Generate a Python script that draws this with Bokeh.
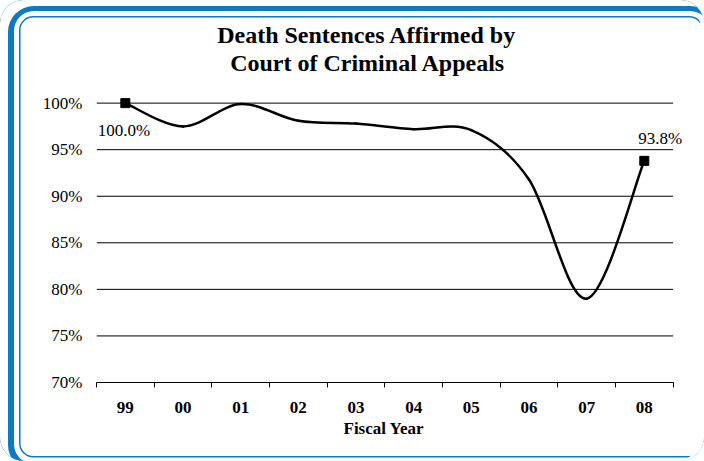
from bokeh.plotting import figure
from bokeh.models import FixedTicker, Title, Range1d, ColumnDataSource, LabelSet, Label
from bokeh.embed import file_html
from bokeh.resources import INLINE

# ---- data ----
years = ["99", "00", "01", "02", "03", "04", "05", "06", "07", "08"]
affirmed = [100.0, 97.5, 99.9, 98.1, 97.8, 97.2, 97.1, 91.8, 79.0, 93.8]
y_ticks = [70, 75, 80, 85, 90, 95, 100]
y_tick_labels = ["70%", "75%", "80%", "85%", "90%", "95%", "100%"]
end_labels = ["100.0%", "93.8%"]
title_lines = ["Death Sentences Affirmed by", "Court of Criminal Appeals"]
x_title = "Fiscal Year"

FONT = "Liberation Serif"
BLUE = "#0a7bc4"

ncat = len(years)
xs = [i + 0.5 for i in range(ncat)]   # category centres; boundaries carry tick marks
n = len(xs)

# ---- layout geometry (pixels) ----
W, H = 704, 461
FL, FT, FB = 96, 20, 382              # frame left / top / bottom
PX_CAT = 57.7                         # pixels per category
PX_PCT = 9.313                        # pixels per percentage point
X_END = ncat + 0.18                   # a bit of room right of the last category
Y_END = 70 + (FB - FT) / PX_PCT
FR = FL + X_END * PX_CAT


def dx(px):
    return (px - FL) / PX_CAT


def dy(py):
    return 70 + (FB - py) / PX_PCT


# smoothed line: cubic Bezier segments with Catmull-Rom control points
seg = dict(x0=[], y0=[], x1=[], y1=[], cx0=[], cy0=[], cx1=[], cy1=[])
for i in range(n - 1):
    xp, yp = (xs[i - 1], affirmed[i - 1]) if i > 0 else (xs[i], affirmed[i])
    xn, yn = (xs[i + 2], affirmed[i + 2]) if i + 2 < n else (xs[i + 1], affirmed[i + 1])
    seg["x0"].append(xs[i]); seg["y0"].append(affirmed[i])
    seg["x1"].append(xs[i + 1]); seg["y1"].append(affirmed[i + 1])
    seg["cx0"].append(xs[i] + (xs[i + 1] - xp) / 6)
    seg["cy0"].append(affirmed[i] + (affirmed[i + 1] - yp) / 6)
    seg["cx1"].append(xs[i + 1] - (xn - xs[i]) / 6)
    seg["cy1"].append(affirmed[i + 1] - (yn - affirmed[i]) / 6)

p = figure(width=W, height=H, x_range=Range1d(0, X_END), y_range=Range1d(70, Y_END),
           output_backend="svg", toolbar_location=None, title=None,
           min_border_left=FL, min_border_right=int(round(W - FR)), min_border_top=FT,
           min_border_bottom=H - FB,
           background_fill_color=None, border_fill_color=None, outline_line_color=None)

# decorative double rounded border (drawn as inset box-shadows of the figure element);
# the frame runs off the right edge of the page, so the right-hand strip is left blank
p.styles = {
    "border-radius": "24px",
    "box-shadow": ", ".join([
        "inset 10px 8px 0 -2px white",
        f"inset 10px 7px 0 4px {BLUE}",
        "inset -4px 0 0 0 white",
        "inset 9.25px 6.25px 0 9.75px white",
        f"inset 9.25px 6.25px 0 11.25px {BLUE}",
    ]),
}

# two-line title (positions calibrated so baselines land at pixel rows 42 and 70)
for txt, cx, base in zip(title_lines, [366.5, 367.5], [34, 62]):
    p.add_layout(Label(x=dx(cx), y=dy(base), text=txt, text_font=FONT, text_font_size="24px",
                       text_font_style="bold", text_color="black",
                       text_align="center", text_baseline="alphabetic"))

# axes
xa = p.xaxis[0]
xa.bounds = (0, ncat)
xa.ticker = FixedTicker(ticks=xs, minor_ticks=list(range(ncat + 1)))
xa.major_label_overrides = {xv: yr for xv, yr in zip(xs, years)}
xa.major_tick_in = 0
xa.major_tick_out = 0
xa.minor_tick_in = 0
xa.minor_tick_out = 5
xa.minor_tick_line_color = "black"
xa.axis_line_color = "black"
xa.major_label_text_font = FONT
xa.major_label_text_font_style = "bold"
xa.major_label_text_font_size = "17px"
xa.major_label_text_color = "black"
xa.major_label_standoff = 14

p.add_layout(Title(text=x_title, align="left", offset=247, standoff=2, text_font=FONT,
                   text_font_size="17px", text_font_style="bold", text_color="black"), "below")

ya = p.yaxis[0]
ya.ticker = FixedTicker(ticks=y_ticks)
ya.major_label_overrides = {t: lab for t, lab in zip(y_ticks, y_tick_labels)}
ya.major_tick_in = 0
ya.major_tick_out = 0
ya.minor_tick_line_color = None
ya.axis_line_color = None
ya.major_label_text_font = FONT
ya.major_label_text_font_size = "17px"
ya.major_label_text_color = "black"
ya.major_label_standoff = 14

# horizontal gridlines spanning exactly the category range
p.xgrid.visible = False
p.ygrid.visible = False
p.segment(x0=[0] * len(y_ticks), x1=[ncat] * len(y_ticks), y0=y_ticks, y1=y_ticks,
          line_color="black", line_width=1)

# line
p.bezier(source=ColumnDataSource(seg), x0="x0", y0="y0", x1="x1", y1="y1",
         cx0="cx0", cy0="cy0", cx1="cx1", cy1="cy1",
         line_color="black", line_width=2.5, line_cap="round")

# end markers and labels
ends = ColumnDataSource(dict(x=[xs[0], xs[-1]], y=[affirmed[0], affirmed[-1]], lab=end_labels,
                             dx=[-1.5, 16], dy=[-27.5, 22]))
p.scatter(x="x", y="y", source=ends, marker="square", size=9, fill_color="black", line_color="black")
p.add_layout(LabelSet(x="x", y="y", text="lab", source=ends, x_offset="dx", y_offset="dy",
                      text_font=FONT, text_font_size="17px", text_color="black",
                      text_align="center", text_baseline="middle"))

open("out.html", "w").write(file_html(p, INLINE))
